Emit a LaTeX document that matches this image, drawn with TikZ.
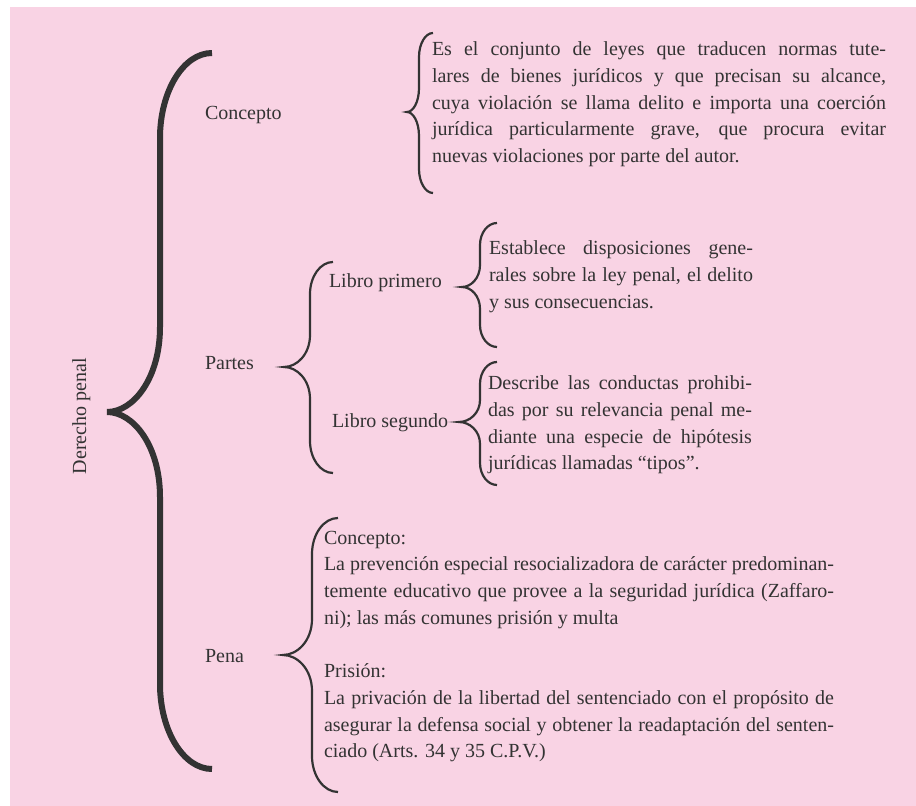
\documentclass[tikz,border=0pt]{standalone}
\usepackage{fontspec}
\setmainfont{Liberation Serif}
\definecolor{pinkbg}{HTML}{F9D3E4}
\definecolor{inkgray}{HTML}{333333}

% curly brace: style, end x, top y, stem x, tip x, tip y, bottom y, hook size
\newcommand{\curlybrace}[8]{%
	\draw[#1] (#2,#3) .. controls ({#4+0.45*(#2-#4)},#3) and (#4,{#3+0.45*#8}) .. (#4,{#3+#8})
		-- (#4,{#6-#8}) .. controls (#4,{#6-0.4*#8}) and ({#5+0.5*(#4-#5)},#6) .. (#5,#6)
		.. controls ({#5+0.5*(#4-#5)},#6) and (#4,{#6+0.4*#8}) .. (#4,{#6+#8})
		-- (#4,{#7-#8}) .. controls (#4,{#7-0.45*#8}) and ({#4+0.45*(#2-#4)},#7) .. (#2,#7);}

\begin{document}
\tolerance=9999 \hyphenpenalty=10000
\begin{tikzpicture}[
		x=0.5pt, y=-0.5pt,
		every node/.style={inner sep=0pt,outer sep=0pt,text=inkgray,font=\fontsize{10}{13.35}\selectfont},
		item/.style={anchor=base west},
		bodytext/.style={anchor=north west,align=justify},
		bigbrace/.style={draw=inkgray,line width=3pt},
		smallbrace/.style={draw=inkgray,line width=1.1pt}]

		\useasboundingbox (0,0) rectangle (916,806);
		\fill[pinkbg] (10,7) rectangle (916,806);

		\node[rotate=90,anchor=base] (dp) at (86,416) {Derecho penal};

		\node[item] (concepto) at (205,120) {Concepto};
		\node[item] (partes) at (205,370) {Partes};
		\node[item] (pena) at (205,663) {Pena};
		\node[item] (libro1) at (329,288) {Libro primero};
		\node[item] (libro2) at (332,428) {Libro segundo};

		\node[bodytext,text width=227pt] (defconcepto) at (432,42) {Es el conjunto de leyes que traducen normas tute-\linebreak
			lares de bienes jurídicos y que precisan su alcance,\linebreak
			cuya violación se llama delito e importa una coerción\linebreak
			jurídica particularmente grave, que procura evitar\linebreak
			nuevas violaciones por parte del autor.};
		\node[bodytext,text width=132pt] (deflibro1) at (489,241) {Establece disposiciones gene-\linebreak
			rales sobre la ley penal, el delito\linebreak
			y sus consecuencias.};
		\node[bodytext,text width=132pt] (deflibro2) at (488,376) {Describe las conductas prohibi-\linebreak
			das por su relevancia penal me-\linebreak
			diante una especie de hipótesis\linebreak
			jurídicas llamadas “tipos”.};
		\node[bodytext,text width=255pt] (defpena) at (324,531) {Concepto:\newline
			La prevención especial resocializadora de carácter predominan-\linebreak
			temente educativo que provee a la seguridad jurídica (Zaffaro-\linebreak
			ni); las más comunes prisión y multa\par\vspace{\baselineskip}
			Prisión:\newline
			La privación de la libertad del sentenciado con el propósito de\linebreak
			asegurar la defensa social y obtener la readaptación del senten-\linebreak
			ciado (Arts. 34 y 35 C.P.V.)};

		% braces
		\curlybrace{bigbrace}{212}{53}{160}{107}{412}{769}{85}
		\curlybrace{smallbrace}{433}{33}{419}{407}{112}{193}{24}
		\curlybrace{smallbrace}{333}{262}{310}{284}{367}{473}{32}
		\curlybrace{smallbrace}{497}{223}{480}{462}{287}{347}{22}
		\curlybrace{smallbrace}{497}{362}{480}{459}{422}{485}{22}
		\curlybrace{smallbrace}{338}{518}{312}{283}{655}{792}{36}

\end{tikzpicture}
\end{document}
